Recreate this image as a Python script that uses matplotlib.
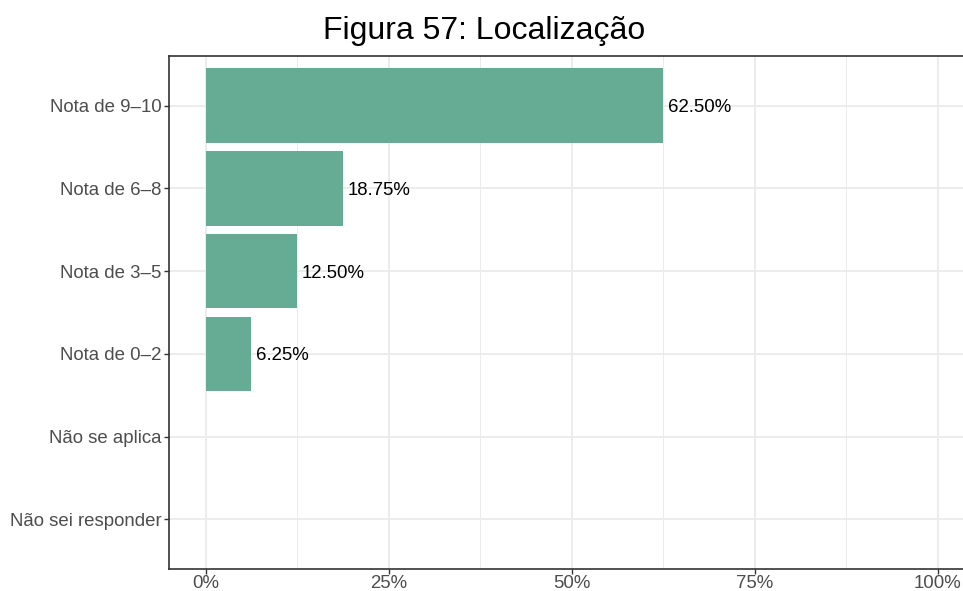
import matplotlib.pyplot as plt
from matplotlib.ticker import FixedLocator

plt.rcParams['font.family'] = ['Liberation Sans', 'DejaVu Sans']

categorias = ['Não sei responder', 'Não se aplica', 'Nota de 0–2',
              'Nota de 3–5', 'Nota de 6–8', 'Nota de 9–10']
percentuais = [0.0, 0.0, 6.25, 12.50, 18.75, 62.50]
rotulos = ['', '', '6.25%', '12.50%', '18.75%', '62.50%']
ticks_x = [0, 25, 50, 75, 100]
ticks_x_txt = ['0%', '25%', '50%', '75%', '100%']

fig = plt.figure(figsize=(9.63, 5.91), dpi=100)
ax = fig.add_axes([169 / 963, 1 - 569 / 591, (974.6 - 169) / 963, (569 - 56) / 591])

pos = list(range(len(categorias)))
ax.barh(pos, percentuais, height=0.9, color='#66AB93', zorder=3)
for p, v, r in zip(pos, percentuais, rotulos):
    if r:
        ax.text(v + 0.6, p, r, va='center_baseline', ha='left', fontsize=13.4,
                color='black', zorder=4)

ax.set_xlim(-5, 105)
ax.set_ylim(-0.6, len(categorias) - 0.4)
ax.set_yticks(pos)
ax.set_yticklabels(categorias, va='center_baseline')
ax.set_xticks(ticks_x)
ax.set_xticklabels(ticks_x_txt)
ax.xaxis.set_minor_locator(FixedLocator([12.5, 37.5, 62.5, 87.5]))

ax.grid(which='major', color='#EBEBEB', linewidth=1.3, zorder=0)
ax.grid(which='minor', axis='x', color='#EBEBEB', linewidth=0.7, zorder=0)
ax.tick_params(which='major', length=3.5, width=1, color='#333333',
               labelcolor='#4D4D4D', labelsize=13.4, pad=2)
ax.tick_params(which='minor', length=0)
ax.tick_params(axis='x', pad=0.5)
for s in ax.spines.values():
    s.set_color('#333333')
    s.set_linewidth(1.2)

fig.text(484 / 963, 1 - 31 / 591, 'Figura 57: Localização', ha='center',
         va='center', fontsize=23)

fig.savefig('out.png', dpi=100)
